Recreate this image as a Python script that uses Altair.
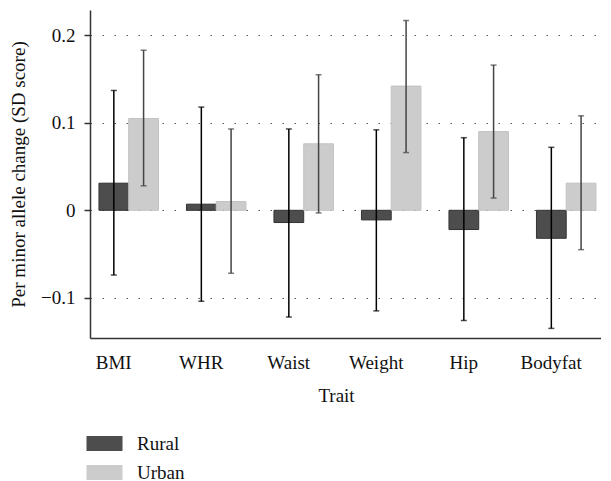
import altair as alt
import pandas as pd

traits = ["BMI", "WHR", "Waist", "Weight", "Hip", "Bodyfat"]
groups = ["Rural", "Urban"]
rural_est = [0.031, 0.007, -0.014, -0.011, -0.022, -0.032]
rural_lo = [-0.074, -0.104, -0.122, -0.115, -0.126, -0.135]
rural_hi = [0.137, 0.118, 0.093, 0.092, 0.083, 0.072]
urban_est = [0.105, 0.010, 0.076, 0.142, 0.090, 0.031]
urban_lo = [0.028, -0.072, -0.003, 0.066, 0.014, -0.045]
urban_hi = [0.183, 0.093, 0.155, 0.217, 0.166, 0.108]

rows = []
for i, t in enumerate(traits):
    rows.append(dict(trait=t, group="Rural", est=rural_est[i], lo=rural_lo[i], hi=rural_hi[i]))
    rows.append(dict(trait=t, group="Urban", est=urban_est[i], lo=urban_lo[i], hi=urban_hi[i]))
df = pd.DataFrame(rows)

FONT = "Liberation Serif"
xscale = alt.Scale(domain=traits, paddingInner=0.32, paddingOuter=0.08, align=0.64)
yscale = alt.Scale(domain=[-0.146, 0.229], nice=False, zero=False)

x = alt.X("trait:N", scale=xscale, sort=traits, title="Trait",
          axis=alt.Axis(labelAngle=0, ticks=False, grid=False, labelOffset=-15,
                        labelPadding=15, titlePadding=14, titleX=246,
                        domainColor="#333333", domainWidth=1.5))
xo = alt.XOffset("group:N", scale=alt.Scale(domain=groups, paddingInner=0, paddingOuter=0))

color = alt.Color("group:N", scale=alt.Scale(domain=groups, range=["#4d4d4d", "#cccccc"]),
                  legend=alt.Legend(title=None, orient="none", legendX=-4, legendY=415,
                                    symbolType="M-1,-0.42L1,-0.42L1,0.42L-1,0.42Z",
                                    symbolSize=1296, symbolStrokeWidth=1,
                                    labelFontSize=19, labelFont=FONT, labelColor="#111111",
                                    rowPadding=-7, labelOffset=14))
stroke = alt.Stroke("group:N", scale=alt.Scale(domain=groups, range=["#333333", "#c2c2c2"]), legend=None)

bars = alt.Chart(df).mark_bar(strokeWidth=1).encode(
    x=x, xOffset=xo,
    y=alt.Y("est:Q", scale=yscale, title="Per minor allele change (SD score)",
            axis=alt.Axis(values=[-0.1, 0, 0.1, 0.2], format="~g", grid=True,
                          gridDash=[1.5, 10.5], gridColor="#555555", gridWidth=1.2,
                          tickSize=6, tickColor="#333333", tickWidth=1.5,
                          domainColor="#333333", domainWidth=1.5,
                          labelPadding=9, titlePadding=12)),
    y2=alt.datum(0),
    color=color, stroke=stroke,
)

erange = ["#000000", "#444444"]

rules = alt.Chart(df).mark_rule(strokeWidth=1.5).encode(
    x=alt.X("trait:N", scale=xscale, sort=traits), xOffset=xo,
    y="lo:Q", y2="hi:Q",
    color=alt.Color("group:N", scale=alt.Scale(domain=groups, range=erange), legend=None),
)
cap_lo = alt.Chart(df).mark_tick(orient="horizontal", size=6, thickness=1.5).encode(
    x=alt.X("trait:N", scale=xscale, sort=traits), xOffset=xo,
    y="lo:Q",
    color=alt.Color("group:N", scale=alt.Scale(domain=groups, range=erange), legend=None),
)
cap_hi = alt.Chart(df).mark_tick(orient="horizontal", size=6, thickness=1.5).encode(
    x=alt.X("trait:N", scale=xscale, sort=traits), xOffset=xo,
    y="hi:Q",
    color=alt.Color("group:N", scale=alt.Scale(domain=groups, range=erange), legend=None),
)

chart = alt.layer(bars, rules, cap_lo, cap_hi).resolve_scale(color="independent").properties(
    width=511, height=328,
    padding={"left": 1, "top": 2, "right": 0, "bottom": 0},
).configure_axis(
    labelFont=FONT, titleFont=FONT, labelFontSize=19, titleFontSize=19,
    labelColor="#111111", titleColor="#111111", titleFontWeight="normal",
).configure_view(stroke=None)

chart.save("out.html", embed_options={"renderer": "svg", "actions": False})
